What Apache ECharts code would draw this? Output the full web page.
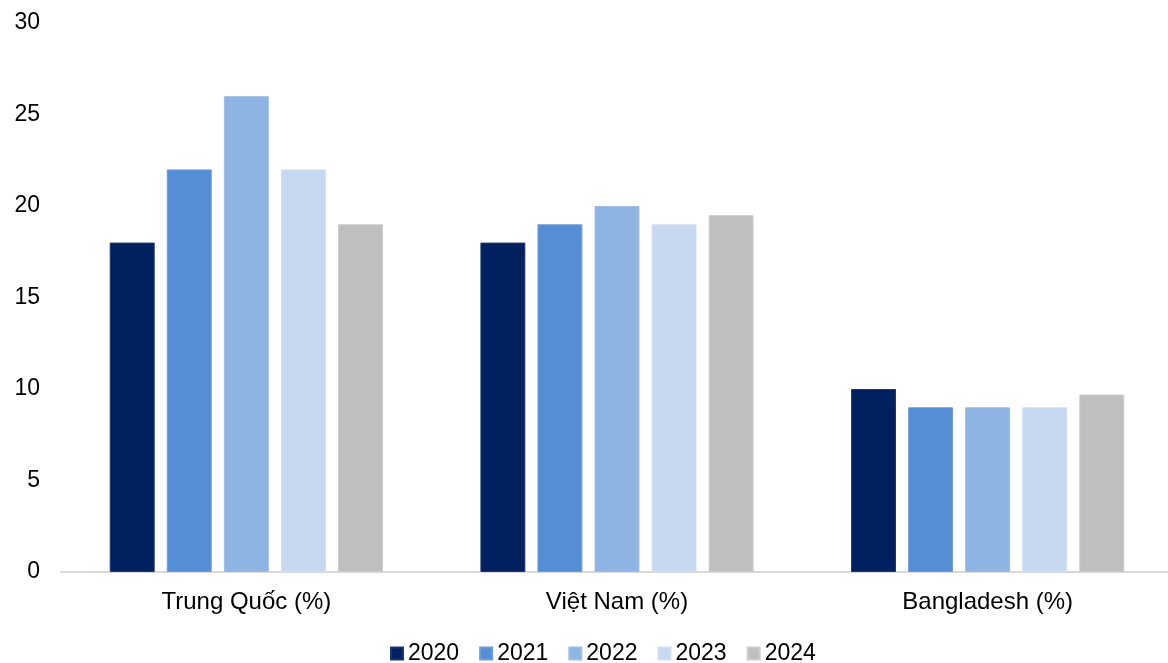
<!DOCTYPE html>
<html>
<head>
<meta charset="utf-8">
<script src="https://cdn.jsdelivr.net/npm/echarts@6/dist/echarts.min.js"></script>
<style>
html,body{margin:0;padding:0;background:#fff;}
#c{width:1168px;height:663px;}
</style>
</head>
<body>
<div id="c"></div>
<script>
const categories = ['Trung Quốc (%)', 'Việt Nam (%)', 'Bangladesh (%)'];
const years = ['2020', '2021', '2022', '2023', '2024'];
const v2020 = [18, 18, 10];
const v2021 = [22, 19, 9];
const v2022 = [26, 20, 9];
const v2023 = [22, 19, 9];
const v2024 = [19, 19.5, 9.7];
const colors = ['#002060', '#558ED5', '#8EB4E3', '#C6D9F1', '#BFBFBF'];
const borders = ['#1a3670', '#6b9cd9', '#9dbde6', '#d0dff3', '#cccccc'];
const seriesValues = [v2020, v2021, v2022, v2023, v2024];

const chart = echarts.init(document.getElementById('c'));
const font = 'Liberation Sans, Arial, sans-serif';
chart.setOption({
  animation: false,
  textStyle: { fontFamily: font },
  grid: { left: 61, width: 1112, top: 23, height: 549, containLabel: false, outerBoundsMode: 'none' },
  legend: {
    top: 637,
    left: 385,
    itemWidth: 12,
    itemHeight: 12,
    itemGap: 20,
    icon: 'rect',
    textStyle: { fontSize: 23, color: '#000', fontFamily: font },
    data: years
  },
  xAxis: {
    type: 'category',
    data: categories,
    axisTick: { show: false },
    axisLine: { lineStyle: { color: '#d9d9d9', width: 2 } },
    axisLabel: { fontSize: 24, color: '#000', margin: 18, fontFamily: font }
  },
  yAxis: {
    type: 'value',
    min: 0, max: 30, interval: 5,
    splitLine: { show: false },
    axisLine: { show: false },
    axisTick: { show: false },
    axisLabel: { fontSize: 23, color: '#000', margin: 21, fontFamily: font }
  },
  series: years.map((y, i) => ({
    name: y,
    type: 'bar',
    data: seriesValues[i],
    barGap: '27%',
    barCategoryGap: '26.3%',
    itemStyle: { color: colors[i], borderColor: borders[i], borderWidth: 1 }
  }))
});
</script>
</body>
</html>
